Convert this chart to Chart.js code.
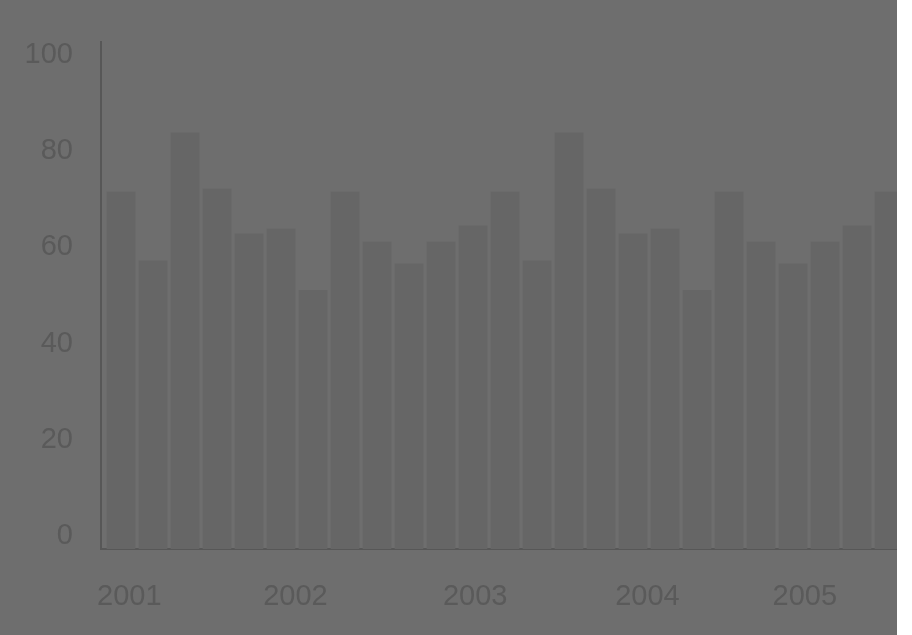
<!DOCTYPE html>
<html>
<head>
<meta charset="utf-8">
<script src="https://cdn.jsdelivr.net/npm/chart.js@4"></script>
<style>
  body { margin: 0; background: #ffffff; }
  #wrap { width: 897px; height: 635px; background: #6e6e6e; }
  canvas { display: block; }
</style>
</head>
<body>
<div id="wrap"><canvas id="bars" width="897" height="635"></canvas></div>
<script>
// values, one per bar (25 periods)
const barValues = [
  74.2, 59.9, 86.5, 74.8, 65.5, 66.5, 53.8, 74.2, 63.8, 59.3, 63.8, 67.2,
  74.2, 59.9, 86.5, 74.8, 65.5, 66.5, 53.8, 74.2, 63.8, 59.3, 63.8, 67.2,
  74.2
];
const yearLabels = ['2001', '2002', '2003', '2004', '2005'];
// where each year label sits, in bar-index units
const yearTickPos = [0.26, 5.45, 11.07, 16.45, 21.37];
const yTicks = [0, 20, 40, 60, 80, 100];

const textColor = '#5a5a5a';
const axisColor = '#575757';
const font = { family: 'Liberation Sans, Arial, Helvetica, sans-serif', size: 29 };

const data = {
  datasets: [{
    data: barValues.map((v, i) => ({ x: i, y: v })),
    backgroundColor: '#666666',
    borderWidth: 0,
    barThickness: 28
  }]
};

const config = {
  type: 'bar',
  data: data,
  options: {
    responsive: false,
    animation: false,
    layout: { padding: { top: 42, right: 0, left: 0, bottom: 0 } },
    plugins: {
      legend: { display: false },
      tooltip: { enabled: false }
    },
    scales: {
      x: {
        type: 'linear',
        min: -0.625,
        max: 24.25,
        offset: false,
        grid: { display: false, drawTicks: false, offset: false },
        border: { display: true, color: axisColor, width: 2 },
        afterBuildTicks: (scale) => {
          scale.ticks = yearTickPos.map(v => ({ value: v }));
        },
        afterFit: (scale) => {
          scale.height = 86;
          scale.paddingLeft = 0;
          scale.paddingRight = 0;
        },
        ticks: {
          autoSkip: false,
          maxRotation: 0,
          padding: 31,
          color: textColor,
          font: font,
          callback: (value, index) => yearLabels[index]
        }
      },
      y: {
        min: 0,
        max: 105.4,
        grid: { display: false, drawTicks: false },
        border: { display: true, color: axisColor, width: 2 },
        afterBuildTicks: (scale) => {
          scale.ticks = yTicks.map(v => ({ value: v }));
        },
        afterFit: (scale) => {
          scale.width = 101;
          scale.paddingTop = 0;
          scale.paddingBottom = 0;
        },
        ticks: {
          padding: 28,
          labelOffset: -13,
          color: textColor,
          font: font
        }
      }
    }
  }
};

new Chart(document.getElementById('bars'), config);
</script>
</body>
</html>
